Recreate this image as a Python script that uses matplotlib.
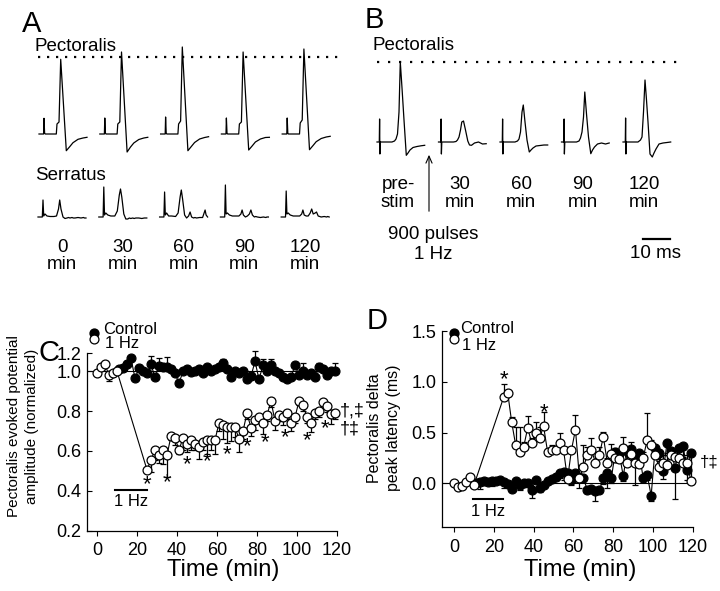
import numpy as np
import matplotlib
matplotlib.use('Agg')
import matplotlib.pyplot as plt

plt.rcParams['font.family'] = ['Liberation Sans', 'DejaVu Sans']

# ---------------------------------------------------------------------
# A / B : example sweeps (time in ms, amplitude in arbitrary units)
# ---------------------------------------------------------------------
PEC_A_T = [0, 1.68, 1.83, 2.05, 2.27, 6.34, 6.59, 7.33, 7.95, 10.0, 11.25, 12.45, 14.29, 16.12, 17.58]
PEC_A = [
    [0, 0, 15.7, 1, 0, 0, 10, 12, 74.7, -16.7, -12.7, -8.7, -5.3, -4.0, -3.3],
    [0, 0, 16, 1, 0, 0, 10, 12, 82, -18, -13, -9, -5.5, -4, -3.3],
    [0, 0, 17, 1, 0, 0, 10, 13, 87, -16.7, -12.5, -8.5, -5, -3.5, -2.7],
    [0, 0, 16, 1, 0, 0, 10, 12, 82, -16, -12, -8, -5, -3.5, -3.3],
    [0, 0, 16, 1, 0, 0, 11, 14, 85, -15.7, -11.7, -7.7, -4.5, -3, -2.3],
]
SER_A_T = [0, 1.58, 1.83, 2.09, 2.56, 3.30, 4.40, 5.86, 6.78, 7.51, 7.95, 8.42, 9.16, 9.89,
           10.62, 11.17, 11.72, 12.45, 12.93, 13.55, 14.65, 15.75, 16.67, 17.03, 17.58]
SER_A = [
    [0, 0, 17, 1, 3, 1, 0.5, 0.5, 1, 8, 17, 8, 0, -1.5, -1, -0.5, -1, -0.5, -1, -1, -0.5, -1, -0.5, -1, -1],
    [0, 0, 30, 2, 4, 2, 1, 1, 6, 22, 28, 20, 3, -2, -2, -1, -1.5, -1, -1.5, -1, -1, -1.5, -1, -1, -1],
    [0, 0, 25, 2, 4, 1, 1, 0.5, 4, 20, 27, 18, 2, -1, 1, 5, 0, -1, -0.5, -1, -0.5, -0.5, 7, 2, 0],
    [0, 0, 32, 3, 4, 2, 1, 1, 1, 3, 7, 2, 0, 1, 3, 7, 2, 0, 0.5, 0, -0.5, 0, -0.5, 0, 0],
    [0, 0, 26, 3, 4, 2, 1, 1, 1, 3, 7, 2, 1, 1, 4, 8, 3, 4, 5, 1, 0, 0.5, 0, 0.5, 0],
]
A_LABELS = ['0', '30', '60', '90', '120']

PEC_B_T = [0, 0.84, 0.95, 1.06, 1.21, 2.20, 3.66, 5.49, 6.41, 6.96, 7.51, 8.06, 8.53,
           9.16, 9.89, 10.73, 11.36, 12.09, 13.19, 14.65, 16.12, 17.47]
PEC_B = [
    [0, 0, 23, -12, 0, 0, 0, 0, 1, 3, 8, 30, 80, 54, 22, -13.3, -11, -8, -5.5, -4.5, -3.8, -3.3],
    [0, 0, 23, -12, 0, 0, 0, 0, 0.5, 2, 5, 12, 20, 21, 12, 1, -3, -3.3, -1, 0, -2, -1.7],
    [0, 0, 23, -12, 0, 0, 0, 0, 1, 3, 10, 30, 37, 20, 2, -10, -8, -6, -4, -3.5, -3, -3],
    [0, 0, 23, -12, 0, 0, 0, 0, 1, 4, 10, 25, 50, 28, 5, -11.7, -8, -5, -2, -1, -2, -1],
    [0, 0, 24, -12, 0, 0, 0, 0, 2, 5, 30, 62, 45, 20, -12, -15, -11, -7, -2, -1, -0.5, 0],
]
B_TOP = ['pre-', '30', '60', '90', '120']
B_BOT = ['stim', 'min', 'min', 'min', 'min']

# ---------------------------------------------------------------------
# C / D : time course (min)
# ---------------------------------------------------------------------
T_HZ = [0, 2, 4, 6, 8, 10] + list(range(25, 120, 2))
T_CTRL = list(range(11, 120, 2))

C_HZ = [0.99, 1.02, 1.035, 0.98, 0.99, 1.0,
        0.505, 0.555, 0.605, 0.578, 0.605, 0.578, 0.675, 0.665, 0.605, 0.665,
        0.635, 0.655, 0.635, 0.62, 0.645, 0.655, 0.655, 0.655, 0.74, 0.73,
        0.72, 0.72, 0.72, 0.66, 0.70, 0.79, 0.715, 0.755, 0.77, 0.74,
        0.78, 0.85, 0.75, 0.78, 0.77, 0.79, 0.74, 0.77, 0.85, 0.83,
        0.77, 0.74, 0.79, 0.80, 0.845, 0.825, 0.785, 0.79]
C_HZ_ERR = [0.0, 0.01, 0.01, 0.03, 0.01, 0.01,
            0.01, 0.06, 0.05, 0.04, 0.07, 0.11, 0.02, 0.035, 0.02, 0.06,
            0.04, 0.05, 0.03, 0.06, 0.04, 0.07, 0.05, 0.07, 0.04, 0.07,
            0.08, 0.07, 0.05, 0.065, 0.04, 0.03, 0.04, 0.05, 0.03, 0.055,
            0.03, 0.03, 0.045, 0.03, 0.04, 0.03, 0.04, 0.03, 0.02, 0.03,
            0.03, 0.045, 0.03, 0.03, 0.03, 0.03, 0.05, 0.03]
C_CTRL = [1.01, 1.015, 1.035, 1.065, 0.965, 1.015, 1.0, 0.99, 1.035, 0.97,
          1.025, 1.02, 1.02, 1.01, 0.99, 0.94, 1.0, 1.01, 0.995, 1.0,
          1.01, 0.99, 1.02, 1.0, 1.01, 1.02, 1.04, 1.01, 0.97, 1.0,
          0.99, 1.0, 0.96, 0.975, 1.05, 0.96, 1.03, 1.0, 1.03, 1.0,
          0.99, 0.97, 0.96, 0.97, 1.03, 0.98, 1.0, 0.98, 0.99, 0.97,
          1.02, 1.01, 0.98, 1.0, 1.0]
C_CTRL_ERR = [0.015, 0.015, 0.015, 0.01, 0.015, 0.015, 0.015, 0.015, 0.04, 0.015,
              0.04, 0.015, 0.05, 0.015, 0.015, 0.015, 0.015, 0.015, 0.015, 0.015,
              0.015, 0.015, 0.015, 0.015, 0.015, 0.015, 0.02, 0.015, 0.015, 0.015,
              0.015, 0.015, 0.015, 0.015, 0.05, 0.015, 0.03, 0.015, 0.03, 0.015,
              0.015, 0.015, 0.015, 0.015, 0.015, 0.015, 0.04, 0.015, 0.015, 0.015,
              0.02, 0.015, 0.015, 0.015, 0.04]
C_STAR_T = [25, 35, 45, 55, 65, 75, 84, 94, 105, 114]
C_STAR_Y = [0.456, 0.466, 0.56, 0.573, 0.607, 0.648, 0.667, 0.693, 0.677, 0.737]

D_HZ = [0.0, -0.04, -0.03, 0.01, 0.065, -0.02,
        0.85, 0.89, 0.60, 0.375, 0.31, 0.36, 0.545, 0.40, 0.50, 0.45,
        0.56, 0.31, 0.33, 0.33, 0.40, 0.33, 0.04, 0.33, 0.53, 0.05,
        0.16, 0.28, 0.33, 0.205, 0.28, 0.46, 0.20, 0.29, 0.25, 0.24,
        0.35, 0.20, 0.29, 0.20, 0.19, 0.25, 0.43, 0.38, 0.28, 0.16,
        0.20, 0.18, 0.28, 0.26, 0.25, 0.20, 0.20, 0.02]
D_HZ_ERR = [0.0, 0.0, 0.0, 0.0, 0.0, 0.0,
            0.13, 0.02, 0.05, 0.18, 0.24, 0.05, 0.12, 0.05, 0.1, 0.1,
            0.14, 0.03, 0.05, 0.03, 0.1, 0.03, 0.05, 0.03, 0.14, 0.05,
            0.22, 0.08, 0.12, 0.1, 0.08, 0.05, 0.05, 0.1, 0.1, 0.08,
            0.11, 0.1, 0.12, 0.06, 0.1, 0.06, 0.26, 0.05, 0.06, 0.08,
            0.08, 0.1, 0.05, 0.06, 0.1, 0.06, 0.08, 0.0]
D_CTRL = [0.00, 0.01, 0.02, 0.01, 0.02, 0.02, 0.03, 0.01, -0.01, -0.06,
          0.02, -0.02, 0.00, 0.00, -0.07, 0.03, -0.05, -0.02, 0.02, 0.04,
          0.06, 0.10, 0.11, 0.10, 0.03, 0.10, 0.05, 0.05, -0.07, -0.06,
          -0.08, -0.07, 0.05, 0.10, 0.05, 0.31, 0.29, 0.07, 0.32, 0.34,
          0.25, 0.30, 0.05, 0.08, -0.12, 0.35, 0.30, 0.12, 0.40, 0.32,
          0.15, 0.35, 0.37, 0.13, 0.30]
D_CTRL_ERR = [0.02, 0.07, 0.02, 0.02, 0.05, 0.03, 0.03, 0.06, 0.03, 0.03,
              0.03, 0.05, 0.03, 0.03, 0.07, 0.03, 0.04, 0.02, 0.02, 0.03,
              0.03, 0.05, 0.08, 0.03, 0.05, 0.04, 0.10, 0.03, 0.03, 0.03,
              0.09, 0.03, 0.06, 0.15, 0.05, 0.10, 0.08, 0.05, 0.10, 0.08,
              0.27, 0.10, 0.03, 0.05, 0.05, 0.10, 0.08, 0.08, 0.10, 0.08,
              0.30, 0.10, 0.12, 0.10, 0.25]
D_STAR_T = [25, 45]
D_STAR_Y = [1.08, 0.756]

TIME_TICKS = [0, 20, 40, 60, 80, 100, 120]

# ---------------------------------------------------------------------
fig = plt.figure(figsize=(7.2, 5.91), dpi=100)

# overlay in pixel units for the sweep panels
ov = fig.add_axes([0, 0, 1, 1])
ov.set_xlim(0, 720)
ov.set_ylim(591, 0)
ov.axis('off')

PX_PER_MS = 2.73
TXT = 13.5


def sweep(x0, y0, t_ms, amp):
    ov.plot(x0 + np.asarray(t_ms) * PX_PER_MS, y0 - np.asarray(amp), color='k', lw=0.9)


# --- A ---
ov.text(22, 32, 'A', fontsize=21, va='baseline')
ov.text(35, 51, 'Pectoralis', fontsize=TXT, va='baseline')
ov.plot([38, 342], [57, 57], color='k', lw=1.6, ls=(0, (1, 3.05)))
ov.text(35, 180, 'Serratus', fontsize=TXT, va='baseline')
for i in range(5):
    x0 = 39 + 60.8 * i
    sweep(x0, 134, PEC_A_T, PEC_A[i])
    sweep(x0 - 1, 217, SER_A_T, SER_A[i])
    ov.text(x0 + 23, 252, A_LABELS[i], fontsize=TXT, ha='center', va='baseline')
    ov.text(x0 + 23, 269, 'min', fontsize=TXT, ha='center', va='baseline')

# --- B ---
ov.text(365, 28, 'B', fontsize=21, va='baseline')
ov.text(372, 50, 'Pectoralis', fontsize=TXT, va='baseline')
ov.plot([377, 680], [62, 62], color='k', lw=1.6, ls=(0, (1, 3.95)))
for i in range(5):
    x0 = 377 + 61.5 * i
    sweep(x0, 142, PEC_B_T, PEC_B[i])
    ov.text(x0 + 21, 189, B_TOP[i], fontsize=TXT, ha='center', va='baseline')
    ov.text(x0 + 21, 207, B_BOT[i], fontsize=TXT, ha='center', va='baseline')
ov.annotate('', xy=(429, 152), xytext=(429, 214),
            arrowprops=dict(arrowstyle='->,head_length=0.5,head_width=0.22', lw=0.8, color='k'))
ov.text(433, 239, '900 pulses', fontsize=TXT, ha='center', va='baseline')
ov.text(433, 259, '1 Hz', fontsize=TXT, ha='center', va='baseline')
ov.plot([643, 670], [239, 239], color='k', lw=1.6)
ov.text(656, 258, '10 ms', fontsize=TXT, ha='center', va='baseline')


# --- C / D ---
def style(ax):
    for s in ['top', 'right']:
        ax.spines[s].set_visible(False)
    for s in ['left', 'bottom']:
        ax.spines[s].set_linewidth(0.9)
    ax.set_facecolor('none')
    ax.tick_params(axis='y', direction='in', length=3.5, width=0.8, pad=4, labelsize=13)
    ax.tick_params(axis='x', direction='out', length=3.5, width=0.8, pad=5, labelsize=13)
    ax.set_xticks(TIME_TICKS)
    ax.set_xlabel('Time (min)', fontsize=17)


def series(ax, t, y, err, filled, err_up):
    err = np.asarray(err)
    yerr = [np.zeros_like(err), err] if err_up else [err, np.zeros_like(err)]
    ax.errorbar(t, y, yerr=yerr, fmt='-o', color='k', lw=0.8, elinewidth=0.9,
                capsize=2.2, capthick=0.9, ms=6.4, mew=0.9,
                mfc='k' if filled else 'white', mec='k', clip_on=False)


def legend(ax, x, y_fill, y_open, tx, ty_c, ty_h):
    ax.plot([x], [y_fill], 'o', color='k', ms=6.4, clip_on=False)
    ax.plot([x], [y_open], 'o', mfc='white', mec='k', mew=0.9, ms=6.4, clip_on=False)
    ax.text(tx, ty_c, 'Control', fontsize=12, va='center', clip_on=False)
    ax.text(tx + 1, ty_h, '1 Hz', fontsize=12, va='center', clip_on=False)


C_TOP = 1.092
axc = fig.add_axes([87 / 720, 1 - 530.5 / 591, 250 / 720, 177.5 / 591])
style(axc)
axc.xaxis.set_label_coords(0.544, -0.16)
axc.set_xlim(-5, 120)
axc.set_ylim(0.2, C_TOP)
axc.set_yticks([0.2, 0.4, 0.6, 0.8, 1.0, C_TOP])
axc.set_yticklabels(['0.2', '0.4', '0.6', '0.8', '1.0', '1.2'])
axc.plot([-5, 120], [1.0, 1.0], color='k', lw=0.8)
series(axc, T_CTRL, C_CTRL, C_CTRL_ERR, True, True)
series(axc, T_HZ, C_HZ, C_HZ_ERR, False, False)
for t, y in zip(C_STAR_T, C_STAR_Y):
    axc.text(t, y - 0.055, '*', fontsize=16, ha='center', va='baseline')
axc.plot([9, 25], [0.405, 0.405], color='k', lw=1.5)
axc.text(17, 0.345, '1 Hz', fontsize=12, ha='center', va='center')
axc.text(121.5, 0.80, '\u2020,\u2021', fontsize=13, va='center', clip_on=False)
axc.text(121.5, 0.71, '\u2020\u2021', fontsize=13, va='center', clip_on=False)
legend(axc, -1.4, 1.19, 1.16, 3, 1.21, 1.14)
fig.text(38 / 720, 1 - 361 / 591, 'C', fontsize=21, va='baseline')
fig.text(23 / 720, 1 - 426 / 591, 'Pectoralis evoked potential\namplitude (normalized)',
         rotation=90, ha='center', va='center', multialignment='center',
         fontsize=11, linespacing=1.3)

axd = fig.add_axes([442 / 720, 1 - 527 / 591, 251 / 720, 196 / 591])
style(axd)
axd.xaxis.set_label_coords(0.55, -0.165)
axd.set_xlim(-6, 120)
axd.set_ylim(-0.43, 1.49)
axd.set_yticks([0.0, 0.5, 1.0, 1.5])
axd.set_yticklabels(['0.0', '0.5', '1.0', '1.5'])
axd.plot([-6, 120], [0, 0], color='k', lw=0.8)
series(axd, T_CTRL, D_CTRL, D_CTRL_ERR, True, False)
series(axd, T_HZ, D_HZ, D_HZ_ERR, False, True)
for t, y in zip(D_STAR_T, D_STAR_Y):
    axd.text(t, y - 0.11, '*', fontsize=16, ha='center', va='baseline')
axd.plot([9.5, 24.6], [-0.15, -0.15], color='k', lw=1.5)
axd.text(17, -0.28, '1 Hz', fontsize=12, ha='center', va='center')
axd.text(123.5, 0.21, '\u2020\u2021', fontsize=12, va='center', clip_on=False)
legend(axd, 0.15, 1.484, 1.42, 3, 1.52, 1.355)
fig.text(367 / 720, 1 - 329 / 591, 'D', fontsize=21, va='baseline')
fig.text(384 / 720, 1 - 428 / 591, 'Pectoralis delta\npeak latency (ms)',
         rotation=90, ha='center', va='center', multialignment='center',
         fontsize=11.5, linespacing=1.3)

fig.savefig('out.png', dpi=100)
